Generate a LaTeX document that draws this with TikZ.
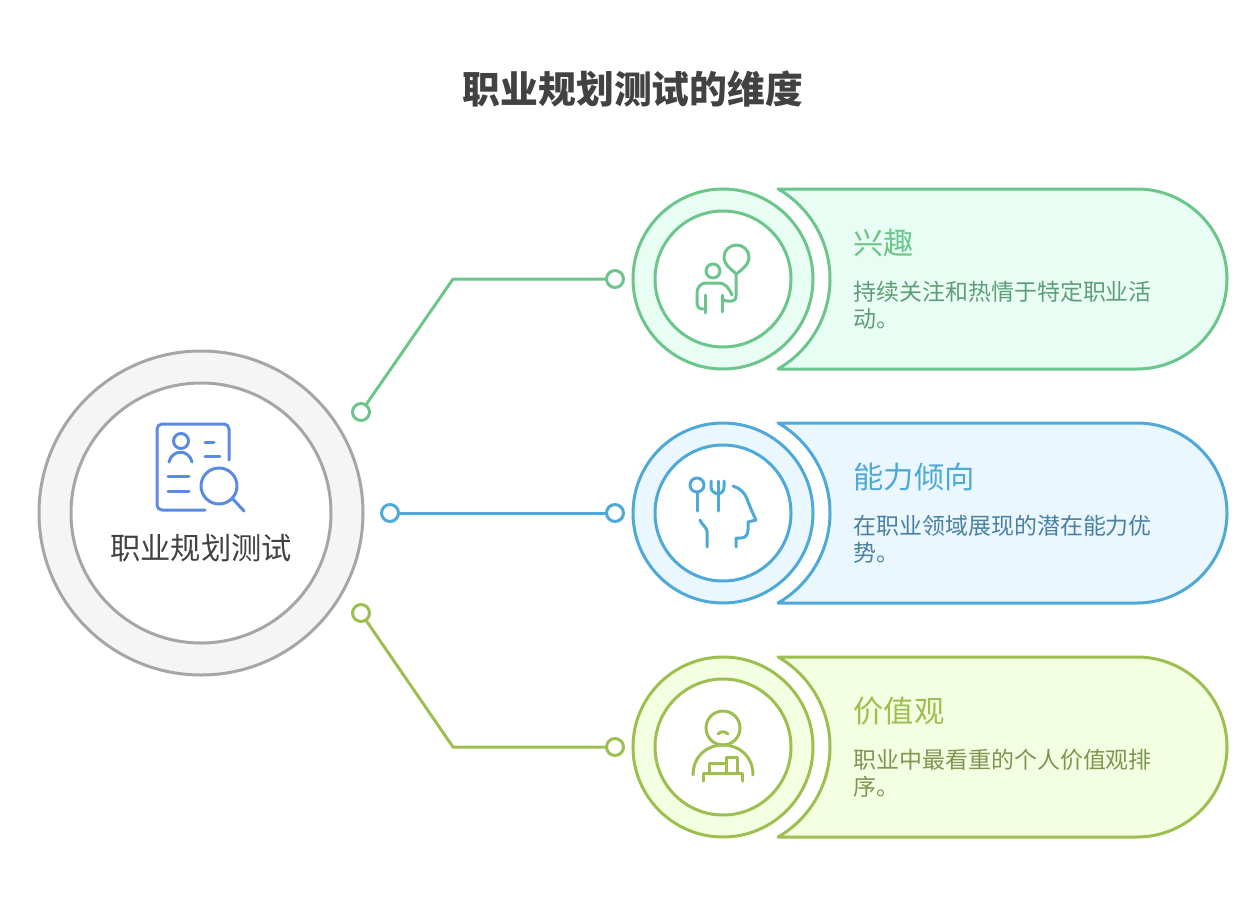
\documentclass[tikz,border=0pt]{standalone}
\usepackage{fontspec}
\setmainfont{Noto Sans CJK SC}
\usepackage{tikz}
\definecolor{greyline}{HTML}{A6A6A6}
\definecolor{greyfill}{HTML}{F5F5F5}
\definecolor{greenline}{HTML}{6CC58A}
\definecolor{greenfill}{HTML}{E8FDF3}
\definecolor{greentext}{HTML}{5F9C78}
\definecolor{blueline}{HTML}{4FA9D8}
\definecolor{bluefill}{HTML}{EAF7FE}
\definecolor{bluetext}{HTML}{4A80A2}
\definecolor{limeline}{HTML}{9DBF50}
\definecolor{limefill}{HTML}{F4FEE1}
\definecolor{limetext}{HTML}{7F9552}
\definecolor{iconblue}{HTML}{5B8BE0}
\definecolor{inktext}{HTML}{424242}

\begin{document}
\begin{tikzpicture}[x=1pt,y=-1pt,
	line width=3pt, % line style
	line cap=round,line join=round,
	ring/.style={circle,draw,inner sep=0pt},
	dot/.style={circle,draw,fill=white,inner sep=0pt,minimum size=17pt},
	heading/.style={anchor=west,inner sep=0pt,font=\fontsize{30.3}{36}\selectfont},
	body/.style={anchor=north west,inner sep=0pt,align=left,font=\fontsize{22.95}{27}\selectfont}]
	\useasboundingbox (0,0) rectangle (1258,910);

	\node[inner sep=0pt,text=inktext,font=\fontsize{37.8}{44}\selectfont\bfseries] (title) at (633,89) {职业规划测试的维度};

	% centre circle
	\node[ring,draw=greyline,fill=greyfill,minimum size=324pt] (hubouter) at (201,513) {};
	\node[ring,draw=greyline,fill=white,minimum size=260pt] (hubinner) at (201,513) {};
	\node[inner sep=0pt,text=inktext,font=\fontsize{30.3}{36}\selectfont] (hublabel) at (201,548) {职业规划测试};

	% centre icon
	\begin{scope}[draw=iconblue]
		\draw (205,510) -- (162,510) arc[start angle=90,end angle=180,radius=5] -- (157,429) arc[start angle=180,end angle=270,radius=5] -- (224,424) arc[start angle=-90,end angle=0,radius=5] -- (229,460);
		\draw (181,441) circle (7.5);
		\draw (169,462) .. controls (172,449) and (189,449) .. (192,462);
		\draw (205,442) -- (214,442);
		\draw (205,456) -- (220,456);
		\draw (168,476) -- (189,476);
		\draw (168,491) -- (189,491);
		\draw (219,486) circle (18);
		\draw (232,498) -- (244,511);
	\end{scope}

	% top row
	\path[draw=greenline,fill=greenfill] (778,189) -- (1137,189) arc[start angle=-90,end angle=90,radius=90] -- (778,369) arc[start angle=60,end angle=-60,radius=104] -- cycle;
	\node[ring,draw=greenline,fill=greenfill,minimum size=180pt] (interestouter) at (723,279) {};
	\node[ring,draw=greenline,fill=white,minimum size=136pt] (interestinner) at (723,279) {};
	\node[heading,text=greenline] (interesthead) at (852,243) {兴趣};
	\node[body,text=greentext] (interesttext) at (852,280) {持续关注和热情于特定职业活\\动。};

	\begin{scope}[draw=greenline]
		\draw (713,271) circle (7);
		\draw (703,309) .. controls (699,309) and (697,307) .. (697,304) -- (697,293) .. controls (697,287) and (701,283) .. (706,283) -- (719,283) .. controls (725,283) and (729,288) .. (732,295);
		\draw (705,295) -- (705,313);
		\draw (722,295) -- (722,312);
		\draw (722,297) .. controls (723,300) and (724,301) .. (727,301) -- (732,301) .. controls (735,301) and (736,299) .. (736,296) -- (736,274);
		\draw (736.5,274) .. controls (732,270) and (724,265) .. (724,257) .. controls (724,250) and (730,245) .. (736.5,245) .. controls (743,245) and (749,250) .. (749,257) .. controls (749,265) and (741,270) .. (736.5,274) -- cycle;
	\end{scope}

	% middle row
	\path[draw=blueline,fill=bluefill] (778,423) -- (1137,423) arc[start angle=-90,end angle=90,radius=90] -- (778,603) arc[start angle=60,end angle=-60,radius=104] -- cycle;
	\node[ring,draw=blueline,fill=bluefill,minimum size=180pt] (abilityouter) at (723,513) {};
	\node[ring,draw=blueline,fill=white,minimum size=136pt] (abilityinner) at (723,513) {};
	\node[heading,text=blueline] (abilityhead) at (852,477) {能力倾向};
	\node[body,text=bluetext] (abilitytext) at (852,514) {在职业领域展现的潜在能力优\\势。};

	\begin{scope}[draw=blueline]
		\draw (697,485) circle (7);
		\draw (697,492) -- (697,511);
		\draw (711,481) -- (711,487) .. controls (711,491) and (714,493) .. (718,494) .. controls (722,493) and (724,491) .. (724,487) -- (724,481);
		\draw (718,481) -- (718,511);
		\draw (733,486) .. controls (740,488) and (745,493) .. (747,499) .. controls (750,507) and (753,514) .. (756,520) -- (748,522) -- (748,530) .. controls (748,535) and (745,538) .. (741,538) -- (736,538) -- (736,547);
		\draw (700,520) .. controls (702,525) and (707,528) .. (707,531) -- (707,547);
	\end{scope}

	% bottom row
	\path[draw=limeline,fill=limefill] (778,657) -- (1137,657) arc[start angle=-90,end angle=90,radius=90] -- (778,837) arc[start angle=60,end angle=-60,radius=104] -- cycle;
	\node[ring,draw=limeline,fill=limefill,minimum size=180pt] (valuesouter) at (723,747) {};
	\node[ring,draw=limeline,fill=white,minimum size=136pt] (valuesinner) at (723,747) {};
	\node[heading,text=limeline] (valueshead) at (852,711) {价值观};
	\node[body,text=limetext] (valuestext) at (852,748) {职业中最看重的个人价值观排\\序。};

	\begin{scope}[draw=limeline]
		\draw (723,728) circle (17);
		\draw (718,734) .. controls (721,731) and (725,731) .. (728,734);
		\draw (693,775) .. controls (693,757) and (706,745) .. (723,745) .. controls (740,745) and (753,757) .. (753,775);
		\draw (703,781) -- (703,773) -- (742,773) -- (742,781);
		\draw (709,773) -- (709,763) -- (726,763);
		\draw (726,773) -- (726,757) -- (737,757) -- (737,773);
	\end{scope}

	% connectors
	\node[dot,draw=greenline] (d1) at (361,412) {};
	\node[dot,draw=greenline] (n1) at (615,279) {};
	\node[dot,draw=blueline] (d2) at (390,513) {};
	\node[dot,draw=blueline] (n2) at (615,513) {};
	\node[dot,draw=limeline] (d3) at (361,613) {};
	\node[dot,draw=limeline] (n3) at (615,747) {};
	\coordinate (b1) at (453,279);
	\coordinate (b3) at (453,747);

	\draw[greenline] (d1)--(b1)--(n1);
	\draw[blueline] (d2)--(n2);
	\draw[limeline] (d3)--(b3)--(n3);
\end{tikzpicture}
\end{document}
